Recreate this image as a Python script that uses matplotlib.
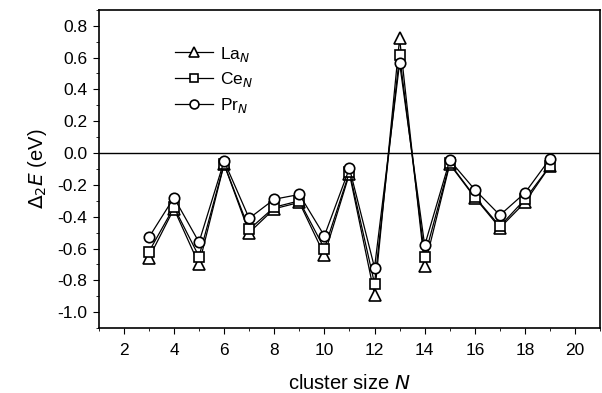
import numpy as np
import matplotlib.pyplot as plt
from matplotlib.ticker import MultipleLocator

plt.rcParams['font.family'] = ['Liberation Sans', 'DejaVu Sans']

# --- data ---
N = [3, 4, 5, 6, 7, 8, 9, 10, 11, 12, 13, 14, 15, 16, 17, 18, 19]
la = [-0.66, -0.35, -0.70, -0.07, -0.50, -0.35, -0.31, -0.64, -0.13, -0.89, 0.72,
      -0.71, -0.07, -0.28, -0.47, -0.31, -0.08]
ce = [-0.62, -0.34, -0.65, -0.07, -0.48, -0.34, -0.30, -0.60, -0.12, -0.82, 0.615,
      -0.65, -0.065, -0.275, -0.46, -0.29, -0.08]
pr = [-0.53, -0.28, -0.56, -0.05, -0.41, -0.29, -0.26, -0.52, -0.095, -0.72, 0.565,
      -0.58, -0.045, -0.23, -0.39, -0.25, -0.035]

fig = plt.figure(figsize=(6.02, 3.93), dpi=100)
ax = fig.add_axes([0.164, 0.165, 0.833, 0.81])

style = dict(color='black', lw=0.9, mfc='white', mec='black', mew=1.2)
ax.plot(N, la, marker='^', ms=8.5, label=r'La$_{N}$', **style)
ax.plot(N, ce, marker='s', ms=6.5, label=r'Ce$_{N}$', **style)
ax.plot(N, pr, marker='o', ms=7.5, label=r'Pr$_{N}$', **style)

ax.axhline(0, color='black', lw=1.0, zorder=1)

ax.set_xlim(1, 21)
ax.set_ylim(-1.1, 0.9)
ax.xaxis.set_major_locator(MultipleLocator(2))
ax.xaxis.set_minor_locator(MultipleLocator(1))
ax.yaxis.set_major_locator(MultipleLocator(0.2))
ax.yaxis.set_minor_locator(MultipleLocator(0.1))
ax.tick_params(which='both', direction='out', top=False, right=False, labelsize=12.5)
ax.tick_params(which='major', length=4.5)
ax.tick_params(which='minor', length=2.5)
ax.tick_params(axis='x', pad=6)
ax.yaxis.set_major_formatter(plt.FuncFormatter(lambda v, p: f'{v:.1f}'))

for s in ax.spines.values():
    s.set_linewidth(1.2)

ax.set_xlabel(r'cluster size $N$', fontsize=14.5, labelpad=12)
ax.set_ylabel(r'$\Delta_2E$ (eV)', fontsize=14.5, labelpad=6)

ax.legend(loc='upper left', bbox_to_anchor=(0.12, 0.94), frameon=False,
          fontsize=12.5, handlelength=2.2, handletextpad=0.4, labelspacing=0.4,
          markerscale=0.85)

plt.savefig('out.png', dpi=100)
